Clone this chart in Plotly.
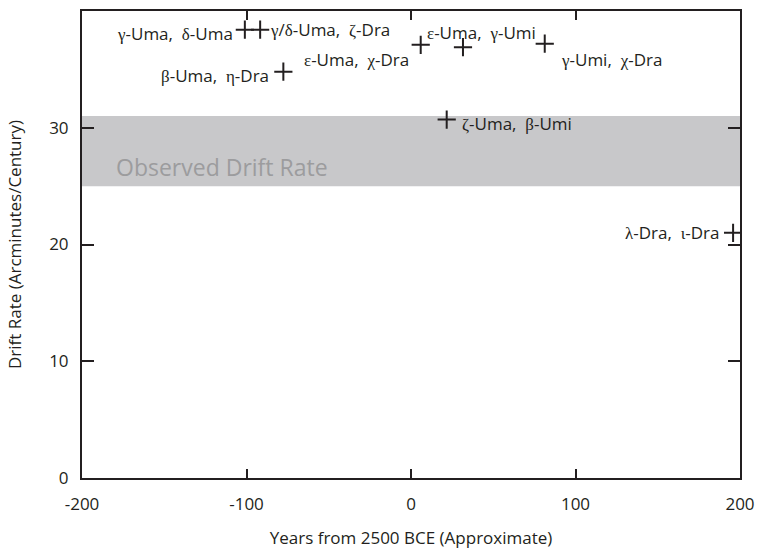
import plotly.graph_objects as go

# ---- data ----
years = [-101, -91.7, -77.6, 5.9, 31.6, 81.3, 21.7, 195.8]
rates = [38.4, 38.4, 34.8, 37.1, 36.9, 37.2, 30.7, 21.0]
labels = [
    "γ-Uma, δ-Uma",
    "γ/δ-Uma, ζ-Dra",
    "β-Uma, η-Dra",
    "ε-Uma, χ-Dra",
    "ε-Uma, γ-Umi",
    "γ-Umi, χ-Dra",
    "ζ-Uma, β-Umi",
    "λ-Dra, ι-Dra",
]
band_low, band_high = 25, 31
band_label = "Observed Drift Rate"
x_ticks = [-200, -100, 0, 100, 200]
y_ticks = [0, 10, 20, 30, 40]

# ---- styling for label placement (anchor, xshift, yshift) ----
label_style = [
    ("right", -10, -4),
    ("left", 8, 0),
    ("right", -12, -4),
    ("right", -10, -15),
    ("left", -38, 15),
    ("left", 14, -16),
    ("left", 13, -4),
    ("right", -12, 0),
]

INK = "#231f20"
SANS = "Open Sans"
GREEK = set("αβγδεζηθικλμνξοπρστυφχψω")
AXFONT = dict(family=SANS, size=17, color=INK)


def fmt(label):
    out = []
    for ch in label:
        if ch in GREEK:
            out.append("<span style=\"font-family:'Liberation Serif',serif\">%s</span>" % ch)
        elif ch == " ":
            out.append("\u00a0 ")
        else:
            out.append(ch)
    return "".join(out)


fig = go.Figure()
fig.add_shape(type="rect", xref="x", yref="y", x0=x_ticks[0], x1=x_ticks[-1],
              y0=band_low, y1=band_high, fillcolor="#c8c8ca", line_width=0, layer="below")

fig.add_trace(go.Scatter(
    x=years, y=rates, mode="markers",
    marker=dict(symbol="cross-thin", size=13, line=dict(width=2, color=INK)),
    showlegend=False,
))

for xv, yv, lab, (anc, xs, ys) in zip(years, rates, labels, label_style):
    fig.add_annotation(x=xv, y=yv, text=fmt(lab), showarrow=False,
                       xanchor=anc, yanchor="middle", xshift=xs, yshift=ys,
                       font=AXFONT)

fig.add_annotation(x=x_ticks[0], y=band_low, text=band_label,
                   showarrow=False, xanchor="left", yanchor="bottom", xshift=32, yshift=1,
                   font=dict(family=SANS, size=23, color="#9c9c9e"))

fig.update_layout(
    width=764, height=557,
    margin=dict(l=82, r=21, t=9, b=79),
    plot_bgcolor="white",
)
fig.update_xaxes(
    range=[x_ticks[0], x_ticks[-1]], tickvals=x_ticks,
    ticktext=[str(v) for v in x_ticks], tickfont=AXFONT,
    showgrid=False, zeroline=False, showline=True, linewidth=2, linecolor=INK,
    mirror="ticks", ticks="inside", ticklen=9, tickwidth=2, tickcolor=INK,
    ticklabelstandoff=10,
    title=dict(text="Years from 2500 BCE (Approximate)", font=AXFONT, standoff=18),
)
fig.update_yaxes(
    range=[y_ticks[0], y_ticks[-1]], tickvals=y_ticks, tickfont=AXFONT,
    showgrid=False, zeroline=False, showline=True, linewidth=2, linecolor=INK,
    mirror="ticks", ticks="inside", ticklen=12, tickwidth=2, tickcolor=INK,
    ticklabelstandoff=8,
    title=dict(text="Drift Rate (Arcminutes/Century)", font=AXFONT, standoff=23),
)

fig.write_html("out.html")
